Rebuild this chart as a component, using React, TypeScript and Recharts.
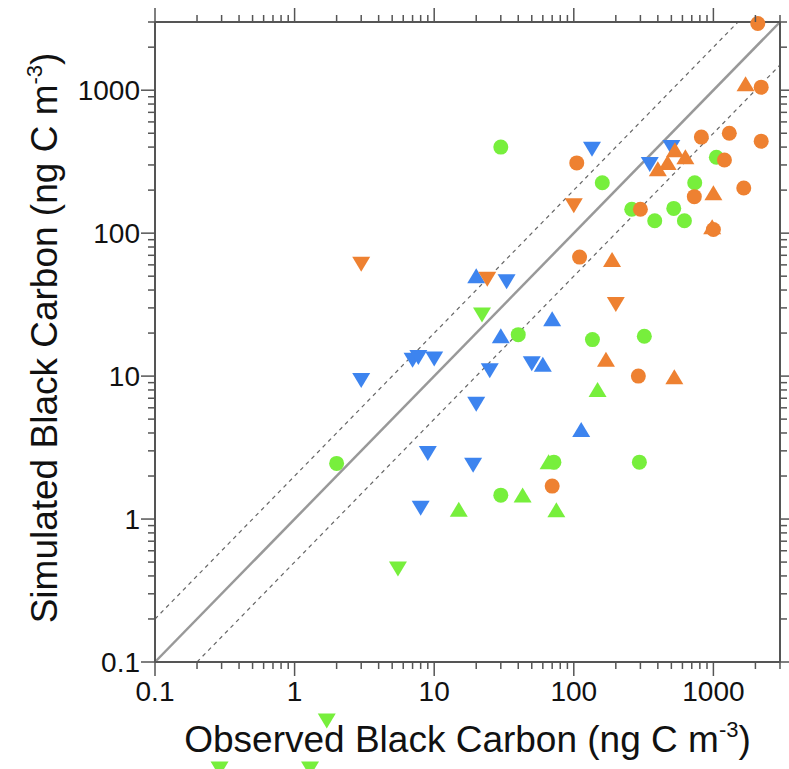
import React from 'react';
import { ScatterChart, Scatter, XAxis, YAxis, ReferenceLine, Label } from 'recharts';

interface Pair {
  obs: number;
  sim: number;
}

const blueUp: Pair[] = [
  { obs: 20, sim: 50 },
  { obs: 30, sim: 19 },
  { obs: 70, sim: 25 },
  { obs: 60, sim: 12 },
  { obs: 113, sim: 4.2 },
];

const blueDown: Pair[] = [
  { obs: 135, sim: 390 },
  { obs: 350, sim: 305 },
  { obs: 500, sim: 400 },
  { obs: 33, sim: 46 },
  { obs: 7, sim: 13 },
  { obs: 7.7, sim: 13.6 },
  { obs: 10, sim: 13.3 },
  { obs: 3, sim: 9.4 },
  { obs: 25, sim: 11 },
  { obs: 50, sim: 12.3 },
  { obs: 20, sim: 6.4 },
  { obs: 9, sim: 2.9 },
  { obs: 19, sim: 2.4 },
  { obs: 8, sim: 1.2 },
];

const greenCircle: Pair[] = [
  { obs: 30, sim: 400 },
  { obs: 160, sim: 225 },
  { obs: 260, sim: 147 },
  { obs: 520, sim: 149 },
  { obs: 380, sim: 122 },
  { obs: 620, sim: 122 },
  { obs: 735, sim: 225 },
  { obs: 1050, sim: 340 },
  { obs: 40, sim: 19.5 },
  { obs: 136, sim: 18 },
  { obs: 320, sim: 19 },
  { obs: 2, sim: 2.45 },
  { obs: 30, sim: 1.47 },
  { obs: 72, sim: 2.5 },
  { obs: 295, sim: 2.5 },
];

const greenUp: Pair[] = [
  { obs: 148, sim: 8 },
  { obs: 15, sim: 1.16 },
  { obs: 43, sim: 1.46 },
  { obs: 66, sim: 2.5 },
  { obs: 75, sim: 1.15 },
];

const greenDown: Pair[] = [
  { obs: 22, sim: 27 },
  { obs: 5.5, sim: 0.45 },
  { obs: 1.7, sim: 0.039 },
  { obs: 0.29, sim: 0.018 },
  { obs: 1.29, sim: 0.018 },
];

const orangeCircle: Pair[] = [
  { obs: 2080, sim: 2930 },
  { obs: 2200, sim: 1050 },
  { obs: 820, sim: 470 },
  { obs: 1300, sim: 500 },
  { obs: 2200, sim: 440 },
  { obs: 105, sim: 310 },
  { obs: 1200, sim: 325 },
  { obs: 730, sim: 180 },
  { obs: 1650, sim: 207 },
  { obs: 300, sim: 147 },
  { obs: 1000, sim: 106 },
  { obs: 110, sim: 68 },
  { obs: 290, sim: 10 },
  { obs: 70, sim: 1.7 },
];

const orangeUp: Pair[] = [
  { obs: 1700, sim: 1100 },
  { obs: 530, sim: 380 },
  { obs: 630, sim: 340 },
  { obs: 470, sim: 310 },
  { obs: 400, sim: 280 },
  { obs: 1000, sim: 190 },
  { obs: 980, sim: 110 },
  { obs: 188, sim: 65 },
  { obs: 170, sim: 13 },
  { obs: 525, sim: 9.8 },
];

const orangeDown: Pair[] = [
  { obs: 100, sim: 157 },
  { obs: 3, sim: 61 },
  { obs: 24, sim: 48 },
  { obs: 200, sim: 32 },
];

const axisDomain: [number, number] = [0.1, 3000];
const decadeStarts = [0.1, 1, 10, 100, 1000];
const tickSteps = [1, 2, 3, 4, 5, 6, 7, 8, 9];
const logTicks = decadeStarts
  .flatMap((d) => tickSteps.map((s) => d * s))
  .filter((v) => v <= 3000 + 1e-6);

const BLUE = '#3d84ef';
const GREEN = '#77ef3c';
const ORANGE = '#ee8131';
const FRAME = '#555';
const FONT = '"Liberation Sans", Arial, Helvetica, sans-serif';
const TICK_FS = 28;
const TITLE_FS = 37;

const isMajor = (v: number) => Math.abs(Math.log10(v) - Math.round(Math.log10(v))) < 1e-6;

const circle = (color: string) => (p: any) => <circle cx={p.cx} cy={p.cy} r={7.5} fill={color} />;

const upTri = (color: string) => (p: any) => (
  <polygon
    points={`${p.cx},${p.cy - 8} ${p.cx + 9},${p.cy + 7} ${p.cx - 9},${p.cy + 7}`}
    fill={color}
  />
);

const downTri = (color: string) => (p: any) => (
  <polygon
    points={`${p.cx - 9},${p.cy - 7} ${p.cx + 9},${p.cy - 7} ${p.cx},${p.cy + 8}`}
    fill={color}
  />
);

const BottomTick = ({ x, y, payload }: any) => {
  const major = isMajor(payload.value);
  return (
    <g>
      <line x1={x} x2={x} y1={y} y2={y + (major ? 14 : 7)} stroke={FRAME} strokeWidth={1.5} />
      {major && (
        <text x={x} y={y + 39} textAnchor="middle" fontSize={TICK_FS} fontFamily={FONT} fill="#111">
          {String(payload.value)}
        </text>
      )}
    </g>
  );
};

const TopTick = ({ x, y, payload }: any) => {
  const major = isMajor(payload.value);
  return <line x1={x} x2={x} y1={y} y2={y - (major ? 14 : 7)} stroke={FRAME} strokeWidth={1.5} />;
};

const LeftTick = ({ x, y, payload }: any) => {
  const major = isMajor(payload.value);
  return (
    <g>
      <line x1={x} x2={x - (major ? 14 : 7)} y1={y} y2={y} stroke={FRAME} strokeWidth={1.5} />
      {major && (
        <text x={x - 15} y={y + 10} textAnchor="end" fontSize={TICK_FS} fontFamily={FONT} fill="#111">
          {String(payload.value)}
        </text>
      )}
    </g>
  );
};

const RightTick = ({ x, y, payload }: any) => {
  const major = isMajor(payload.value);
  return <line x1={x} x2={x + (major ? 14 : 7)} y1={y} y2={y} stroke={FRAME} strokeWidth={1.5} />;
};

const XTitle = ({ viewBox }: any) => {
  const cx = viewBox.x + viewBox.width / 2;
  const by = viewBox.y + 90;
  return (
    <text x={cx} y={by} textAnchor="middle" fontSize={TITLE_FS} fontFamily={FONT} fill="#111">
      Observed Black Carbon (ng C m
      <tspan dy={-15} fontSize={22}>-3</tspan>
      <tspan dy={15}>)</tspan>
    </text>
  );
};

const YTitle = ({ viewBox }: any) => {
  const cy = viewBox.y + viewBox.height / 2 - 4;
  const bx = 57;
  return (
    <text
      x={bx}
      y={cy}
      transform={`rotate(-90, ${bx}, ${cy})`}
      textAnchor="middle"
      fontSize={TITLE_FS}
      fontFamily={FONT}
      fill="#111"
    >
      Simulated Black Carbon (ng C m
      <tspan dy={-15} fontSize={22}>-3</tspan>
      <tspan dy={15}>)</tspan>
    </text>
  );
};

const App: React.FC = () => {
  return (
    <div style={{ position: 'absolute', left: 0, top: 0, background: '#fff' }}>
      <style>{'.recharts-scatter { clip-path: none !important; } .recharts-surface { overflow: visible; }'}</style>
      <ScatterChart width={789} height={769} margin={{ top: 0, right: 0, bottom: 7, left: 55 }}>
        <XAxis
          xAxisId="top"
          orientation="top"
          type="number"
          dataKey="obs"
          scale="log"
          domain={axisDomain}
          allowDataOverflow
          ticks={logTicks}
          interval={0}
          height={22}
          tickSize={0}
          tickMargin={0}
          tickLine={false}
          tick={(p: any) => <TopTick {...p} />}
          axisLine={{ stroke: FRAME, strokeWidth: 2 }}
        />
        <YAxis
          yAxisId="right"
          orientation="right"
          type="number"
          dataKey="sim"
          scale="log"
          domain={axisDomain}
          allowDataOverflow
          ticks={logTicks}
          interval={0}
          width={9}
          tickSize={0}
          tickMargin={0}
          tickLine={false}
          tick={(p: any) => <RightTick {...p} />}
          axisLine={{ stroke: FRAME, strokeWidth: 2 }}
        />
        <XAxis
          type="number"
          dataKey="obs"
          scale="log"
          domain={axisDomain}
          allowDataOverflow
          ticks={logTicks}
          interval={0}
          height={100}
          tickSize={0}
          tickMargin={0}
          tickLine={false}
          tick={(p: any) => <BottomTick {...p} />}
          axisLine={{ stroke: FRAME, strokeWidth: 2 }}
        >
          <Label content={(p: any) => <XTitle {...p} />} />
        </XAxis>
        <YAxis
          type="number"
          dataKey="sim"
          scale="log"
          domain={axisDomain}
          allowDataOverflow
          ticks={logTicks}
          interval={0}
          width={100}
          tickSize={0}
          tickMargin={0}
          tickLine={false}
          tick={(p: any) => <LeftTick {...p} />}
          axisLine={{ stroke: FRAME, strokeWidth: 2 }}
        >
          <Label content={(p: any) => <YTitle {...p} />} />
        </YAxis>

        <Scatter data={blueUp} shape={upTri(BLUE)} isAnimationActive={false} />
        <Scatter data={blueDown} shape={downTri(BLUE)} isAnimationActive={false} />
        <Scatter data={greenCircle} shape={circle(GREEN)} isAnimationActive={false} />
        <Scatter data={greenUp} shape={upTri(GREEN)} isAnimationActive={false} />
        <Scatter data={greenDown} shape={downTri(GREEN)} isAnimationActive={false} />
        <Scatter data={orangeCircle} shape={circle(ORANGE)} isAnimationActive={false} />
        <Scatter data={orangeUp} shape={upTri(ORANGE)} isAnimationActive={false} />
        <Scatter data={orangeDown} shape={downTri(ORANGE)} isAnimationActive={false} />

        <ReferenceLine
          segment={[{ x: 0.1, y: 0.2 }, { x: 1500, y: 3000 }]}
          stroke="#666"
          strokeWidth={1.2}
          strokeDasharray="4 4"
          ifOverflow="visible"
        />
        <ReferenceLine
          segment={[{ x: 0.2, y: 0.1 }, { x: 3000, y: 1500 }]}
          stroke="#666"
          strokeWidth={1.2}
          strokeDasharray="4 4"
          ifOverflow="visible"
        />
        <ReferenceLine
          segment={[{ x: 0.1, y: 0.1 }, { x: 3000, y: 3000 }]}
          stroke="#999"
          strokeWidth={2.5}
          ifOverflow="visible"
        />
      </ScatterChart>
    </div>
  );
};

export default App;
